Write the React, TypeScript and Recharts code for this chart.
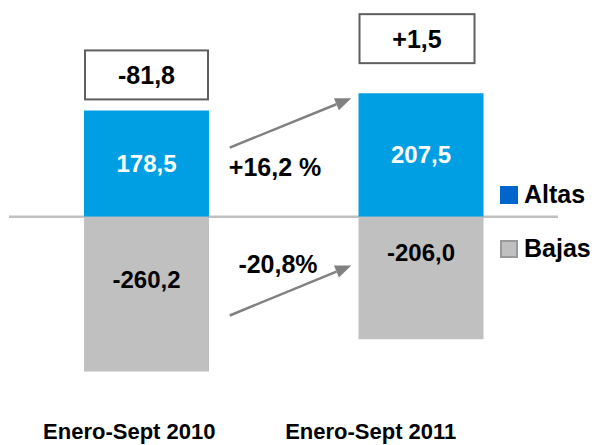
import React from 'react';
import { BarChart, Bar, XAxis, YAxis, CartesianGrid, LabelList, Legend } from 'recharts';

const CATEGORIES = ['Enero-Sept 2010', 'Enero-Sept 2011'];
const ALTAS = [178.5, 207.5];
const BAJAS = [-260.2, -206.0];
const NETO = [-81.8, 1.5];
const VAR_ALTAS = '+16,2 %';
const VAR_BAJAS = '-20,8%';

const BLUE = '#009fe3';
const GREY = '#c0c0c0';
const FONT = 'Arial, "Liberation Sans", sans-serif';

const W = 594;
const H = 445;
const MARGIN = { top: 0, right: 36, left: 9, bottom: 0 };
const Y_DOMAIN: [number, number] = [-308, 364];
const PLOT_BOTTOM = 400;
const BAR_SIZE = 125;

// same linear mapping the hidden y axis uses, for the overlay annotations
const yPx = (v: number) => MARGIN.top + ((Y_DOMAIN[1] - v) / (Y_DOMAIN[1] - Y_DOMAIN[0])) * (PLOT_BOTTOM - MARGIN.top);
const band = (W - MARGIN.left - MARGIN.right) / CATEGORIES.length;
const barLeft = (i: number) => MARGIN.left + band * (i + 0.5) - BAR_SIZE / 2;

const data = CATEGORIES.map((name, i) => ({ name, altas: ALTAS[i], bajas: BAJAS[i], neto: NETO[i] }));

const fmt = (v: number) => v.toFixed(1).replace('.', ',');
const fmtNeto = (v: number) => (v > 0 ? '+' : '') + fmt(v);

const TICK_SHIFT = [-17, -50];
const BOX_GAP = [11, 30];
const BOX_W = [123, 115];
const BOX_SHIFT = [0, -4];
const BAJA_SHIFT = [-15, -25];

const box = (p: any) => (p.viewBox && p.viewBox.width != null ? p.viewBox : p);

const AltaLabel = (props: any) => {
  const { x, y, width, height } = box(props);
  return (
    <text x={x + width / 2} y={y + height / 2} textAnchor="middle" dominantBaseline="central"
      fill="#fff" fontSize={24} fontWeight="bold" fontFamily={FONT}>
      {fmt(props.value)}
    </text>
  );
};

const BajaLabel = (props: any) => {
  const { x, y, width, height } = box(props);
  return (
    <text x={x + width / 2} y={y + height / 2 + BAJA_SHIFT[props.index]} textAnchor="middle"
      dominantBaseline="central" fill="#000" fontSize={24} fontWeight="bold" fontFamily={FONT}>
      {fmt(props.value)}
    </text>
  );
};

const NetoBox = (props: any) => {
  const { x, y, width } = box(props);
  const i = props.index;
  const cx = x + width / 2 + BOX_SHIFT[i];
  const bottom = y - BOX_GAP[i];
  const bh = 49;
  return (
    <g>
      <rect x={cx - BOX_W[i] / 2} y={bottom - bh} width={BOX_W[i]} height={bh} fill="#fff" stroke="#5f5f5f" strokeWidth={2} />
      <text x={cx} y={bottom - bh / 2} textAnchor="middle" dominantBaseline="central"
        fill="#000" fontSize={25} fontWeight="bold" fontFamily={FONT}>
        {fmtNeto(props.value)}
      </text>
    </g>
  );
};

const CategoryTick = (props: any) => {
  const { x, y, payload, index } = props;
  return (
    <text x={x + TICK_SHIFT[index]} y={y} dy={39} textAnchor="middle" fill="#000"
      fontSize={22} fontWeight="bold" fontFamily={FONT}>
      {payload.value}
    </text>
  );
};

const LEGEND_ITEMS = [
  { name: 'Altas', fill: '#0066cc', stroke: '#0066cc' },
  { name: 'Bajas', fill: GREY, stroke: '#9a9a9a' },
];

const LegendContent = () => (
  <div style={{ position: 'relative', width: 94, height: 90, fontFamily: FONT }}>
    {LEGEND_ITEMS.map((item, i) => (
      <div key={item.name} style={{ position: 'absolute', left: 0, top: i * 54, height: 25, display: 'flex', alignItems: 'center', whiteSpace: 'nowrap' }}>
        <span style={{ display: 'inline-block', width: 14, height: 14, background: item.fill, border: `2px solid ${item.stroke}`, marginRight: 6 }} />
        <span style={{ fontSize: 25, fontWeight: 'bold', color: '#000', lineHeight: '25px' }}>{item.name}</span>
      </div>
    ))}
  </div>
);

const Arrow = ({ x1, y1, x2, y2 }: { x1: number; y1: number; x2: number; y2: number }) => {
  const len = Math.hypot(x2 - x1, y2 - y1);
  const ux = (x2 - x1) / len;
  const uy = (y2 - y1) / len;
  const hl = 16;
  const hw = 6.5;
  const bx = x2 - ux * hl;
  const by = y2 - uy * hl;
  return (
    <g>
      <line x1={x1} y1={y1} x2={bx} y2={by} stroke="#808080" strokeWidth={2.5} />
      <polygon points={`${x2},${y2} ${bx - uy * hw},${by + ux * hw} ${bx + uy * hw},${by - ux * hw}`} fill="#808080" />
    </g>
  );
};

const App: React.FC = () => {
  const ax1 = barLeft(0) + BAR_SIZE + 21;
  const ax2 = barLeft(1) - 7;
  return (
    <div style={{ position: 'absolute', left: 0, top: 0, width: W, height: H, background: '#fff' }}>
      <BarChart width={W} height={H} data={data} margin={MARGIN} stackOffset="sign" barSize={BAR_SIZE}>
        <CartesianGrid vertical={false} horizontalValues={[0]} stroke={GREY} strokeWidth={2.5} />
        <XAxis dataKey="name" axisLine={false} tickLine={false} tickSize={0} tickMargin={0} height={H - PLOT_BOTTOM}
          interval={0} tick={<CategoryTick />} />
        <YAxis hide type="number" domain={Y_DOMAIN} allowDataOverflow />
        <Legend layout="horizontal" align="center" verticalAlign="middle" content={<LegendContent />}
          wrapperStyle={{ position: 'absolute', left: 500, top: 182, width: 94, height: 90 }} />
        <Bar dataKey="altas" name="Altas" stackId="s" fill={BLUE} isAnimationActive={false}>
          <LabelList dataKey="altas" content={<AltaLabel />} />
          <LabelList dataKey="neto" content={<NetoBox />} />
        </Bar>
        <Bar dataKey="bajas" name="Bajas" stackId="s" fill={GREY} isAnimationActive={false}>
          <LabelList dataKey="bajas" content={<BajaLabel />} />
        </Bar>
      </BarChart>
      <svg width={W} height={H} style={{ position: 'absolute', left: 0, top: 0, pointerEvents: 'none' }}>
        <Arrow x1={ax1} y1={yPx(116)} x2={ax2} y2={yPx(199)} />
        <Arrow x1={ax1} y1={yPx(-166)} x2={ax2} y2={yPx(-82)} />
        <text x={275} y={yPx(83.5)} textAnchor="middle" dominantBaseline="central" fontSize={25} fontWeight="bold" fontFamily={FONT}>
          {VAR_ALTAS}
        </text>
        <text x={278} y={yPx(-79.5)} textAnchor="middle" dominantBaseline="central" fontSize={25} fontWeight="bold" fontFamily={FONT}>
          {VAR_BAJAS}
        </text>
      </svg>
    </div>
  );
};

export default App;
